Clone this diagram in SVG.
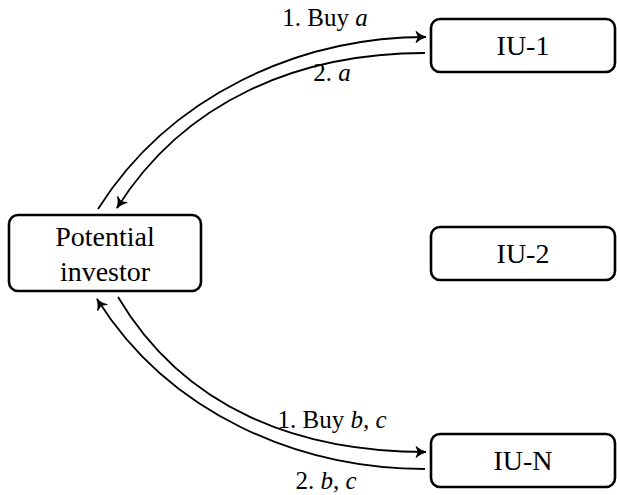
<svg xmlns="http://www.w3.org/2000/svg" width="617" height="495" viewBox="0 0 617 495">
  <style>
    text { font-family: "Liberation Serif", "DejaVu Serif", serif; fill: #000; text-anchor: middle; }
    .box { fill: #ffffff; stroke: #000000; stroke-width: 2.6; }
    .node { font-size: 28px; }
    .lbl { font-size: 25px; }
    .edge { fill: none; stroke: #000; stroke-width: 1.8; }
  </style>
  <defs>
    <marker id="arr" viewBox="0 0 14 14" refX="12" refY="7" markerWidth="14" markerHeight="14" markerUnits="userSpaceOnUse" orient="auto">
      <path d="M2,1.5 Q7,6 12,7 Q7,8 2,12.5 L4.5,7 Z" fill="#000" stroke="#000" stroke-width="1" stroke-linejoin="round"/>
    </marker>
  </defs>

  <g id="investor">
    <rect class="box" x="9" y="215" width="192" height="76" rx="9"/>
    <text class="node" x="105" y="246">Potential</text>
    <text class="node" x="105" y="281">investor</text>
  </g>
  <g id="iu1">
    <rect class="box" x="431" y="19" width="184" height="53" rx="9"/>
    <text class="node" x="523" y="55">IU-1</text>
  </g>
  <g id="iu2">
    <rect class="box" x="431" y="227" width="184" height="53" rx="9"/>
    <text class="node" x="523" y="263">IU-2</text>
  </g>
  <g id="iun">
    <rect class="box" x="431" y="434" width="184" height="53" rx="9"/>
    <text class="node" x="523" y="470">IU-N</text>
  </g>

  <g id="connectors">
    <path class="edge" d="M98,209 C170,95 300,37 426,37" marker-end="url(#arr)"/>
    <path class="edge" d="M425,53 C300,53 185,100 117,208" marker-end="url(#arr)"/>
    <path class="edge" d="M118,297 C185,410 300,452 426,452" marker-end="url(#arr)"/>
    <path class="edge" d="M425,469 C300,469 170,415 97,299" marker-end="url(#arr)"/>
    <text class="lbl" x="325" y="26">1. Buy <tspan font-style="italic">a</tspan></text>
    <text class="lbl" x="332" y="81">2. <tspan font-style="italic">a</tspan></text>
    <text class="lbl" x="332" y="428">1. Buy <tspan font-style="italic">b, c</tspan></text>
    <text class="lbl" x="326" y="489">2. <tspan font-style="italic">b, c</tspan></text>
  </g>
</svg>
